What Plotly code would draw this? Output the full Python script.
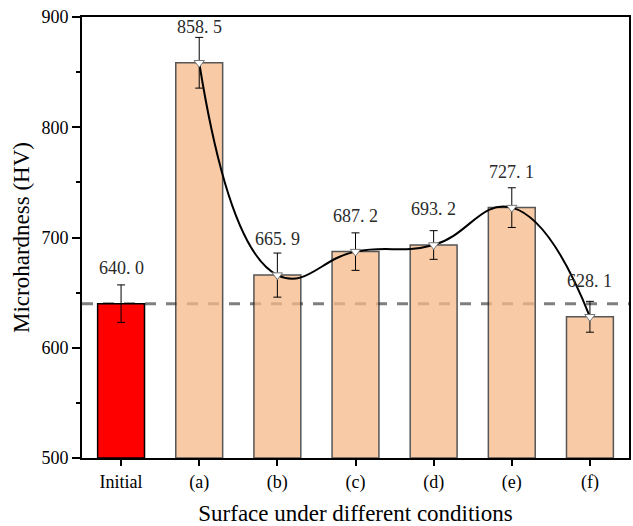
import plotly.graph_objects as go

# Microhardness of each surface condition
categories = ["Initial", "(a)", "(b)", "(c)", "(d)", "(e)", "(f)"]
hardness = [640.0, 858.5, 665.9, 687.2, 693.2, 727.1, 628.1]
errors = [17, 23, 20, 17, 13, 18, 14]
baseline = 640.0

SERIF = "Times New Roman"
PEACH = "rgb(246,186,137)"

bar_colors = ["#ff0000"] + [PEACH] * (len(categories) - 1)
bar_opacity = [1.0] + [0.76] * (len(categories) - 1)
bar_edges = ["#000000"] + ["#222222"] * (len(categories) - 1)

fig = go.Figure()

fig.add_trace(go.Bar(
    x=categories,
    y=[v - 500 for v in hardness],
    base=500,
    width=0.6,
    marker=dict(color=bar_colors, opacity=bar_opacity,
                line=dict(color=bar_edges, width=1.5)),
    showlegend=False,
    hoverinfo="skip",
))

# error bars centred on the bar tops
fig.add_trace(go.Scatter(
    x=categories,
    y=hardness,
    mode="markers",
    marker=dict(size=1, color="rgba(0,0,0,0)"),
    error_y=dict(type="data", array=errors, color="black", thickness=1, width=4),
    showlegend=False,
    hoverinfo="skip",
))

# smooth trend through the treated surfaces
fig.add_trace(go.Scatter(
    x=categories[1:],
    y=hardness[1:],
    mode="lines+markers",
    line=dict(color="black", width=2, shape="spline", smoothing=1.3),
    marker=dict(symbol="triangle-down", size=9, color="white",
                line=dict(color="#777777", width=1)),
    showlegend=False,
    hoverinfo="skip",
))

# reference level of the initial surface
fig.add_shape(
    type="line", xref="paper", x0=0, x1=1, yref="y", y0=baseline, y1=baseline,
    line=dict(color="#7f7f7f", width=3, dash="11px,10px"),
    layer="below",
)

for cat, val in zip(categories, hardness):
    fig.add_annotation(
        x=cat, y=val, text=f"{val:.1f}".replace(".", ". "),
        showarrow=False, yshift=36,
        font=dict(family=SERIF, size=18, color="#2a2a2a"),
    )

fig.update_layout(
    width=633, height=526,
    margin=dict(l=82, r=2, t=17, b=68),
    paper_bgcolor="white", plot_bgcolor="white",
    font=dict(family=SERIF, size=18, color="black"),
    bargap=0.4,
)

fig.update_xaxes(
    type="category",
    range=[-0.5, 6.5],
    showline=True, linecolor="black", linewidth=2, mirror=True,
    ticks="outside", ticklen=6, tickwidth=2, tickcolor="black",
    tickfont=dict(family=SERIF, size=18),
    title=dict(text="Surface under different conditions",
               font=dict(family=SERIF, size=23), standoff=15),
    showgrid=False, zeroline=False,
)

fig.update_yaxes(
    range=[500, 900],
    tickvals=[500, 600, 700, 800, 900],
    showline=True, linecolor="black", linewidth=2, mirror=True,
    ticks="outside", ticklen=8, tickwidth=2, tickcolor="black",
    minor=dict(tickvals=[550, 650, 750, 850], ticks="outside",
               ticklen=4, tickwidth=2, tickcolor="black"),
    tickfont=dict(family=SERIF, size=18),
    title=dict(text="Microhardness (HV)", font=dict(family=SERIF, size=23),
               standoff=5),
    showgrid=False, zeroline=False,
)

fig.write_html("out.html")
